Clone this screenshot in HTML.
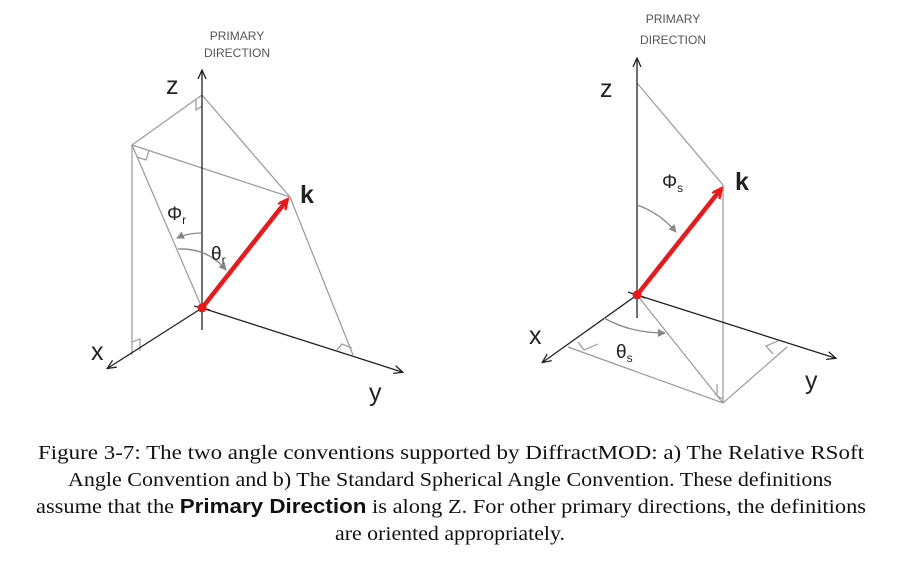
<!DOCTYPE html>
<html><head><style>body{margin:0;background:#fff}svg{display:block}</style></head><body>
<svg width="900" height="572" viewBox="0 0 900 572" xmlns="http://www.w3.org/2000/svg">
<defs>
<marker id="ab" markerWidth="10" markerHeight="10" refX="8" refY="5" orient="auto" markerUnits="userSpaceOnUse"><path d="M0,1 L9,5 L0,9" fill="none" stroke="#222" stroke-width="1.3"/></marker>
<marker id="ag" markerWidth="10" markerHeight="10" refX="7" refY="4" orient="auto" markerUnits="userSpaceOnUse"><path d="M0,0 L8,4 L0,8 Z" fill="#888"/></marker>
<marker id="ar" markerWidth="12" markerHeight="12" refX="9" refY="5" orient="auto" markerUnits="userSpaceOnUse"><path d="M0,0 L10,5 L0,10" fill="none" stroke="#e8191b" stroke-width="2.5"/></marker>
</defs>
<g font-family="Liberation Sans, sans-serif">
<!-- LEFT -->
<g stroke="#999" stroke-width="1.2" fill="none">
<path d="M202,95 L132,145 L290,197 Z"/>
<path d="M132,145 L202,308"/>
<path d="M132,145 L132,355"/>
<path d="M290,197 L353,355"/>
<path d="M202,106 l-6,4 l0,-10"/>
<path d="M137,157 l9,3 l3,-10"/>
<path d="M132,342 l8,-3 l0,12"/>
<path d="M337,350 l5,-6 l10,4"/>
</g>
<g stroke="#222" stroke-width="1.3" fill="none">
<line x1="202" y1="330" x2="202" y2="71" marker-end="url(#ab)"/>
<line x1="202" y1="308" x2="108" y2="368" marker-end="url(#ab)"/>
<line x1="202" y1="308" x2="402" y2="372" marker-end="url(#ab)"/>
<line x1="194" y1="306" x2="210" y2="310"/>
</g>
<path d="M201,233 Q188,233 177,238" stroke="#888" stroke-width="1.3" fill="none" marker-end="url(#ag)"/>
<path d="M178,249 Q208,248 226,270" stroke="#888" stroke-width="1.3" fill="none" marker-end="url(#ag)"/>
<line x1="202" y1="308" x2="287" y2="200" stroke="#e8191b" stroke-width="4.5" marker-end="url(#ar)"/>
<circle cx="202" cy="308" r="4.5" fill="#e8191b"/>
<text x="237" y="40" font-size="12" fill="#555" text-anchor="middle">PRIMARY</text>
<text x="237" y="57" font-size="12" fill="#555" text-anchor="middle">DIRECTION</text>
<text x="166" y="94" font-size="25" fill="#222">z</text>
<text x="91" y="360" font-size="25" fill="#222">x</text>
<text x="369" y="401" font-size="25" fill="#222">y</text>
<text x="300" y="203" font-size="25" font-weight="bold" fill="#222">k</text>
<text x="167" y="220" font-size="19" fill="#222">Φ<tspan font-size="12" dy="4">r</tspan></text>
<text x="211" y="260" font-size="19" fill="#222">θ<tspan font-size="12" dy="4">r</tspan></text>
<!-- RIGHT -->
<g stroke="#999" stroke-width="1.2" fill="none">
<path d="M637,83 L723,185 L723,403"/>
<path d="M637,295 L723,403"/>
<path d="M568,347 L723,403 L787,347"/>
<path d="M578,342 l6,8 l14,-6"/>
<path d="M773,354 l-7,-8 l12,-5"/>
<path d="M717,384 l0,12 l6,3"/>
</g>
<g stroke="#222" stroke-width="1.3" fill="none">
<line x1="637" y1="318" x2="637" y2="59" marker-end="url(#ab)"/>
<line x1="637" y1="295" x2="543" y2="362" marker-end="url(#ab)"/>
<line x1="637" y1="295" x2="835" y2="358" marker-end="url(#ab)"/>
<line x1="628" y1="292" x2="645" y2="298"/>
</g>
<path d="M637,205 Q660,213 676,232" stroke="#888" stroke-width="1.3" fill="none" marker-end="url(#ag)"/>
<path d="M604,318 Q630,333 665,333" stroke="#888" stroke-width="1.3" fill="none" marker-end="url(#ag)"/>
<line x1="637" y1="295" x2="721" y2="189" stroke="#e8191b" stroke-width="4.5" marker-end="url(#ar)"/>
<circle cx="637" cy="295" r="4.5" fill="#e8191b"/>
<text x="673" y="23" font-size="12" fill="#555" text-anchor="middle">PRIMARY</text>
<text x="673" y="44" font-size="12" fill="#555" text-anchor="middle">DIRECTION</text>
<text x="600" y="97" font-size="25" fill="#222">z</text>
<text x="529" y="344" font-size="25" fill="#222">x</text>
<text x="805" y="389" font-size="25" fill="#222">y</text>
<text x="735" y="190" font-size="25" font-weight="bold" fill="#222">k</text>
<text x="662" y="188" font-size="19" fill="#222">Φ<tspan font-size="12" dy="4">s</tspan></text>
<text x="616" y="358" font-size="19" fill="#222">θ<tspan font-size="12" dy="4">s</tspan></text>
</g>
<g font-family="Liberation Serif, serif" font-size="20" fill="#111">
<text x="38" y="459" textLength="826" lengthAdjust="spacingAndGlyphs">Figure 3-7:  The two angle conventions supported by DiffractMOD: a) The Relative RSoft</text>
<text x="68" y="486" textLength="764" lengthAdjust="spacingAndGlyphs">Angle Convention and b) The Standard Spherical Angle Convention. These definitions</text>
<text x="36" y="513" textLength="830" lengthAdjust="spacingAndGlyphs">assume that the <tspan font-family="Liberation Sans, sans-serif" font-weight="bold">Primary Direction</tspan> is along Z. For other primary directions, the definitions</text>
<text x="335" y="540" textLength="230" lengthAdjust="spacingAndGlyphs">are oriented appropriately.</text>
</g>
</svg>
</body></html>
